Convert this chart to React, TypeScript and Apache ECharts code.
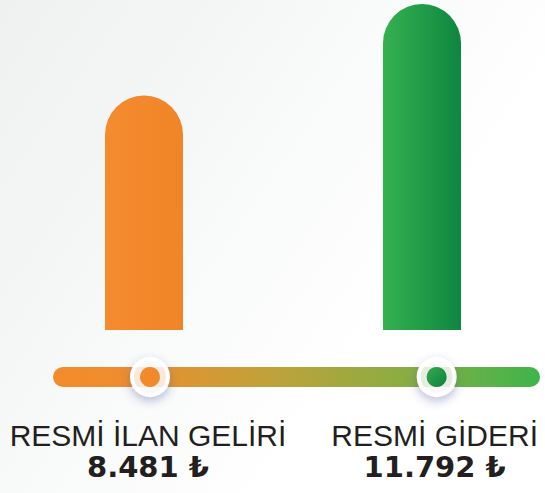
import React, { useEffect, useRef } from "react";
import * as echarts from "echarts";

const categories = ["RESMİ İLAN GELİRİ", "RESMİ GİDERİ"];
const values = [8481, 11792];
const valueLabels = ["8.481 ₺", "11.792 ₺"];
const markerPositions = [0, 0];

export default function App() {
  const ref = useRef<HTMLDivElement>(null);
  useEffect(() => {
    if (!ref.current) return;
    const chart = echarts.init(ref.current, undefined, { renderer: "svg" });
    const barColors = [
      new echarts.graphic.LinearGradient(0, 0, 1, 0, [
        { offset: 0, color: "#F58B2F" },
        { offset: 1, color: "#EF8526" },
      ]),
      new echarts.graphic.LinearGradient(0, 0, 1, 0, [
        { offset: 0, color: "#35B14F" },
        { offset: 1, color: "#0F8641" },
      ]),
    ];
    const dotColors = [
      "#F28A2C",
      new echarts.graphic.LinearGradient(0, 0, 1, 1, [
        { offset: 0, color: "#30AD4E" },
        { offset: 1, color: "#117F3E" },
      ]),
    ];
    chart.setOption({
      animation: false,
      backgroundColor: new echarts.graphic.LinearGradient(0, 0, 0.8, 0.5, [
        { offset: 0, color: "#EEF1F0" },
        { offset: 1, color: "#FFFFFF" },
      ]),
      grid: [
        { left: 144, top: 0, width: 278, height: 330 },
        { left: 150, top: 367, width: 290, height: 20 },
      ],
      xAxis: [
        { type: "category", gridIndex: 0, data: categories, boundaryGap: false, show: false },
        {
          type: "category",
          gridIndex: 1,
          data: categories,
          boundaryGap: false,
          axisLine: { show: false },
          axisTick: { show: false },
          axisLabel: {
            interval: 0,
            margin: 32,
            formatter: (v: string, i: number) => `{n|${v}}\n{v|${valueLabels[i]}}`,
            rich: {
              n: { fontSize: 30, lineHeight: 32, color: "#231F20", fontFamily: "Liberation Sans", padding: [0, 4, 0, 0] },
              v: { fontSize: 29, lineHeight: 32, color: "#231F20", fontWeight: "bold", fontFamily: "DejaVu Sans", padding: [0, 4, 0, 0] },
            },
          },
        },
      ],
      yAxis: [
        { type: "value", gridIndex: 0, min: 0, max: 11940, show: false },
        { type: "value", gridIndex: 1, min: -1, max: 1, show: false },
      ],
      graphic: [
        {
          type: "rect",
          shape: { x: 53, y: 367, width: 487, height: 20, r: 10 },
          style: {
            fill: new echarts.graphic.LinearGradient(0, 0, 1, 0, [
              { offset: 0, color: "#F38B2C" },
              { offset: 0.15, color: "#EE8D2E" },
              { offset: 0.45, color: "#BFA23A" },
              { offset: 0.75, color: "#84AE44" },
              { offset: 1, color: "#3DB54B" },
            ]),
          },
          z: 1,
        },
      ],
      series: [
        {
          type: "bar",
          xAxisIndex: 0,
          yAxisIndex: 0,
          barWidth: 78,
          clip: false,
          data: values.map((v, i) => ({
            value: v,
            itemStyle: { color: barColors[i], borderRadius: [39, 39, 0, 0] },
          })),
        },
        {
          type: "scatter",
          xAxisIndex: 1,
          yAxisIndex: 1,
          symbolSize: 36,
          z: 5,
          clip: false,
          itemStyle: {
            opacity: 1,
            color: "rgba(255,255,255,0.8)",
            borderColor: "#FFFFFF",
            borderWidth: 4,
            shadowBlur: 10,
            shadowOffsetY: 4,
            shadowColor: "rgba(60,80,150,0.4)",
          },
          data: markerPositions,
        },
        {
          type: "scatter",
          xAxisIndex: 1,
          yAxisIndex: 1,
          symbolSize: 20,
          z: 6,
          clip: false,
          data: markerPositions.map((v, i) => ({ value: v, itemStyle: { color: dotColors[i], opacity: 1 } })),
        },
      ],
    });
    return () => chart.dispose();
  }, []);
  return <div ref={ref} style={{ position: "fixed", left: 0, top: 0, width: 545, height: 493 }} />;
}
